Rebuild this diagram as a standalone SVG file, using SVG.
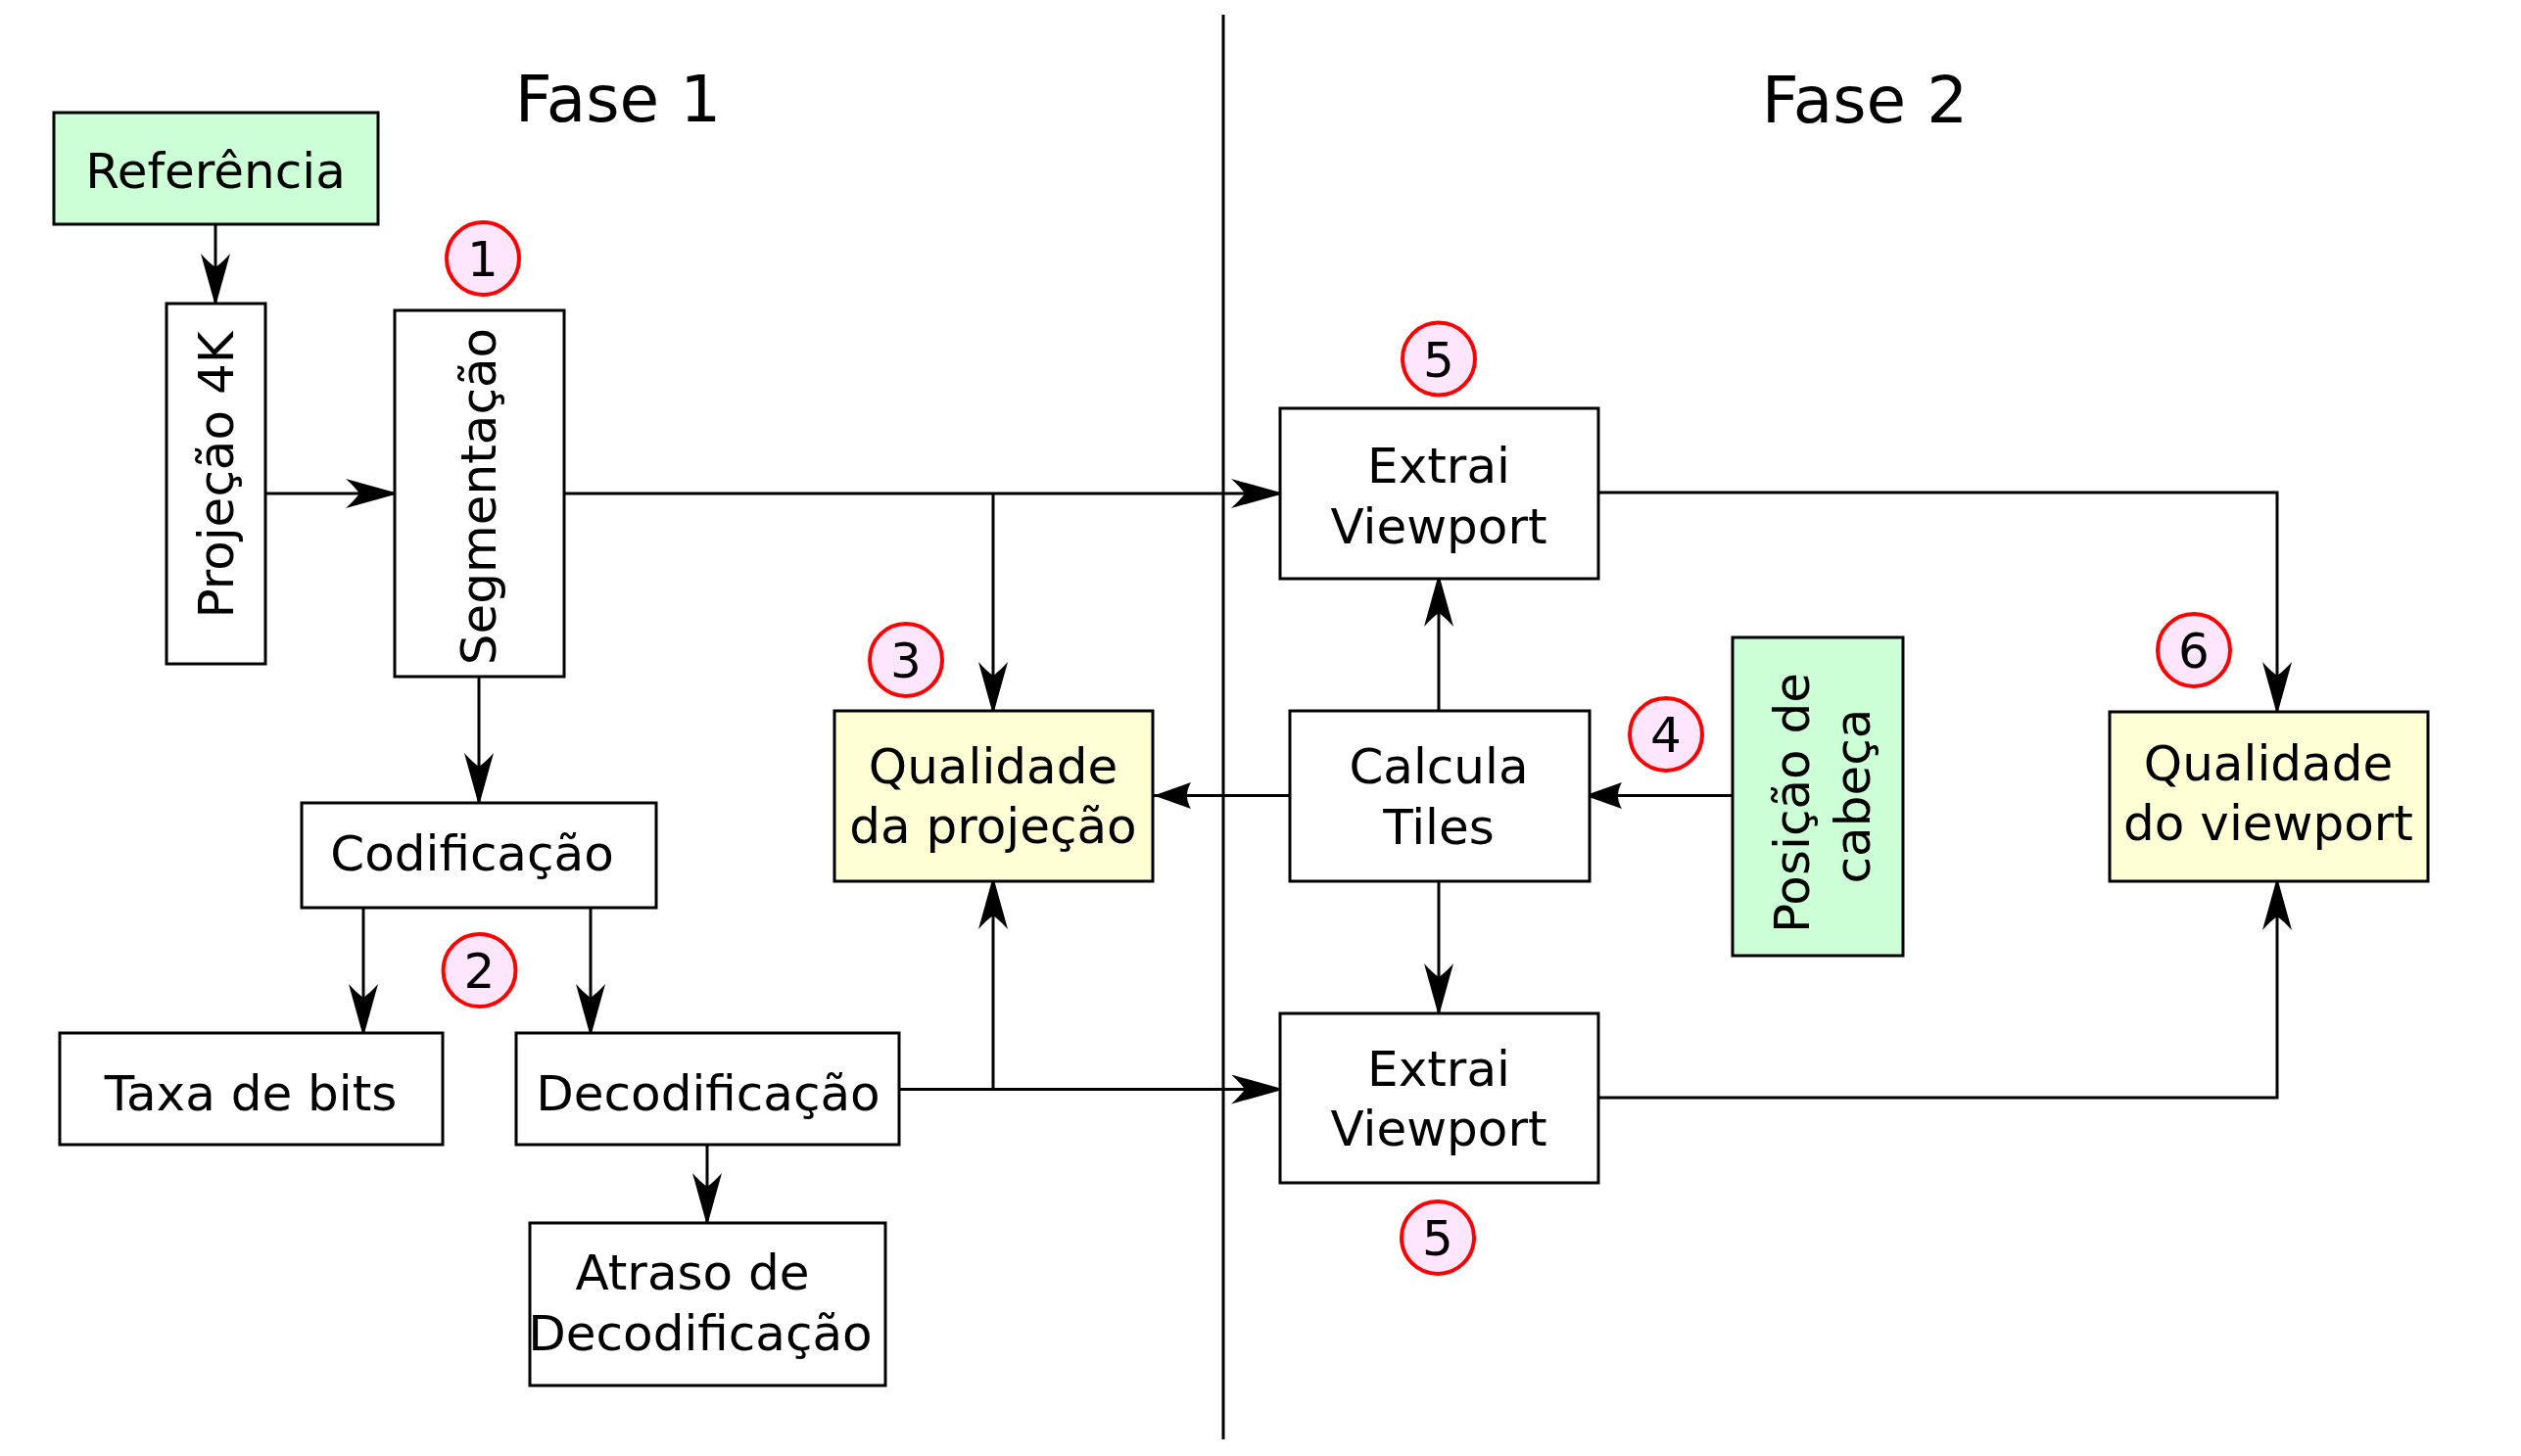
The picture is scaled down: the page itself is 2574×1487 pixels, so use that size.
<svg xmlns="http://www.w3.org/2000/svg" width="2574" height="1487" viewBox="0 0 2574 1487">
<style>
.box{stroke:#000;stroke-width:3;fill:#fff}
.green{fill:#ccffd6}
.yellow{fill:#ffffd6}
.num{fill:#ffe6ff;stroke:#ff0000;stroke-width:4}
text{font-family:"DejaVu Sans","Liberation Sans",sans-serif;font-size:50px;fill:#000;text-anchor:middle}
.title{font-size:66px}
.conn path{fill:none;stroke:#000;stroke-width:3}
.div{stroke:#000;stroke-width:3}
</style>
<defs>
<marker id="aL" markerUnits="userSpaceOnUse" viewBox="0 0 54 30" refX="54" refY="15" markerWidth="54" markerHeight="30" orient="auto">
<path d="M54,15 L0,0 Q9,8 14,15 Q9,22 0,30 Z" fill="#000"/>
</marker>
<marker id="aS" markerUnits="userSpaceOnUse" viewBox="0 0 38 27" refX="38" refY="13.5" markerWidth="38" markerHeight="27" orient="auto">
<path d="M38,13.5 L0,0 Q8,13.5 0,27 Z" fill="#000"/>
</marker>
</defs>
<rect width="2574" height="1487" fill="#fff"/>
<line class="div" x1="1249" y1="15" x2="1249" y2="1470"/>
<text class="title" x="631" y="124">Fase 1</text>
<text class="title" x="1904" y="125">Fase 2</text>

<g class="conn">
<path d="M220,229 V313" marker-end="url(#aL)"/>
<path d="M271,504 H407" marker-end="url(#aL)"/>
<path d="M576,504 H1311" marker-end="url(#aL)"/>
<path d="M1014,504 V730" marker-end="url(#aL)"/>
<path d="M489,691 V823" marker-end="url(#aL)"/>
<path d="M371,927 V1059" marker-end="url(#aL)"/>
<path d="M603,927 V1059" marker-end="url(#aL)"/>
<path d="M918,1112.5 H1311" marker-end="url(#aL)"/>
<path d="M1014,1112.5 V895" marker-end="url(#aL)"/>
<path d="M722,1169 V1252" marker-end="url(#aL)"/>
<path d="M1469,726 V586" marker-end="url(#aL)"/>
<path d="M1321,812.5 H1178" marker-end="url(#aS)"/>
<path d="M1469,900 V1038" marker-end="url(#aL)"/>
<path d="M1769,812.5 H1618" marker-end="url(#aS)"/>
<path d="M1632,503 H2325 V730" marker-end="url(#aL)"/>
<path d="M1632,1121 H2325 V896" marker-end="url(#aL)"/>
</g>

<g id="referencia"><rect class="box green" x="55" y="115" width="331" height="114"/><text x="220" y="192">Referência</text></g>
<g id="projecao4k"><rect class="box" x="170" y="310" width="101" height="368"/><text transform="translate(238,485) rotate(-90)">Projeção 4K</text></g>
<g id="segmentacao"><rect class="box" x="403" y="317" width="173" height="374"/><text transform="translate(506,507) rotate(-90)">Segmentação</text></g>
<g id="codificacao"><rect class="box" x="308" y="820" width="362" height="107"/><text x="482" y="889">Codificação</text></g>
<g id="taxa"><rect class="box" x="61" y="1055" width="391" height="114"/><text x="256" y="1134">Taxa de bits</text></g>
<g id="decodificacao"><rect class="box" x="527" y="1055" width="391" height="114"/><text x="723" y="1134">Decodificação</text></g>
<g id="atraso"><rect class="box" x="541" y="1249" width="363" height="166"/><text x="707" y="1317">Atraso de</text><text x="715" y="1379">Decodificação</text></g>
<g id="qualidade-projecao"><rect class="box yellow" x="852" y="726" width="325" height="174"/><text x="1014" y="800">Qualidade</text><text x="1014" y="861">da projeção</text></g>
<g id="extrai1"><rect class="box" x="1307" y="417" width="325" height="174"/><text x="1469" y="493">Extrai</text><text x="1469" y="555">Viewport</text></g>
<g id="calcula"><rect class="box" x="1317" y="726" width="306" height="174"/><text x="1469" y="800">Calcula</text><text x="1469" y="862">Tiles</text></g>
<g id="extrai2"><rect class="box" x="1307" y="1035" width="325" height="173"/><text x="1469" y="1109">Extrai</text><text x="1469" y="1170">Viewport</text></g>
<g id="posicao"><rect class="box green" x="1769" y="651" width="174" height="325"/><text transform="translate(1847,820) rotate(-90)">Posição de</text><text transform="translate(1909,813) rotate(-90)">cabeça</text></g>
<g id="qualidade-viewport"><rect class="box yellow" x="2154" y="727" width="325" height="173"/><text x="2316" y="797">Qualidade</text><text x="2316" y="858">do viewport</text></g>

<g id="n1"><circle class="num" cx="493" cy="264" r="37"/><text x="493" y="282">1</text></g>
<g id="n2"><circle class="num" cx="489.5" cy="991" r="37"/><text x="489.5" y="1009">2</text></g>
<g id="n3"><circle class="num" cx="925" cy="674" r="37"/><text x="925" y="692">3</text></g>
<g id="n4"><circle class="num" cx="1701" cy="750" r="37"/><text x="1701" y="768">4</text></g>
<g id="n5a"><circle class="num" cx="1469" cy="366.5" r="37"/><text x="1469" y="385">5</text></g>
<g id="n5b"><circle class="num" cx="1468" cy="1264" r="37"/><text x="1468" y="1282">5</text></g>
<g id="n6"><circle class="num" cx="2240" cy="664" r="37"/><text x="2240" y="682">6</text></g>
</svg>
